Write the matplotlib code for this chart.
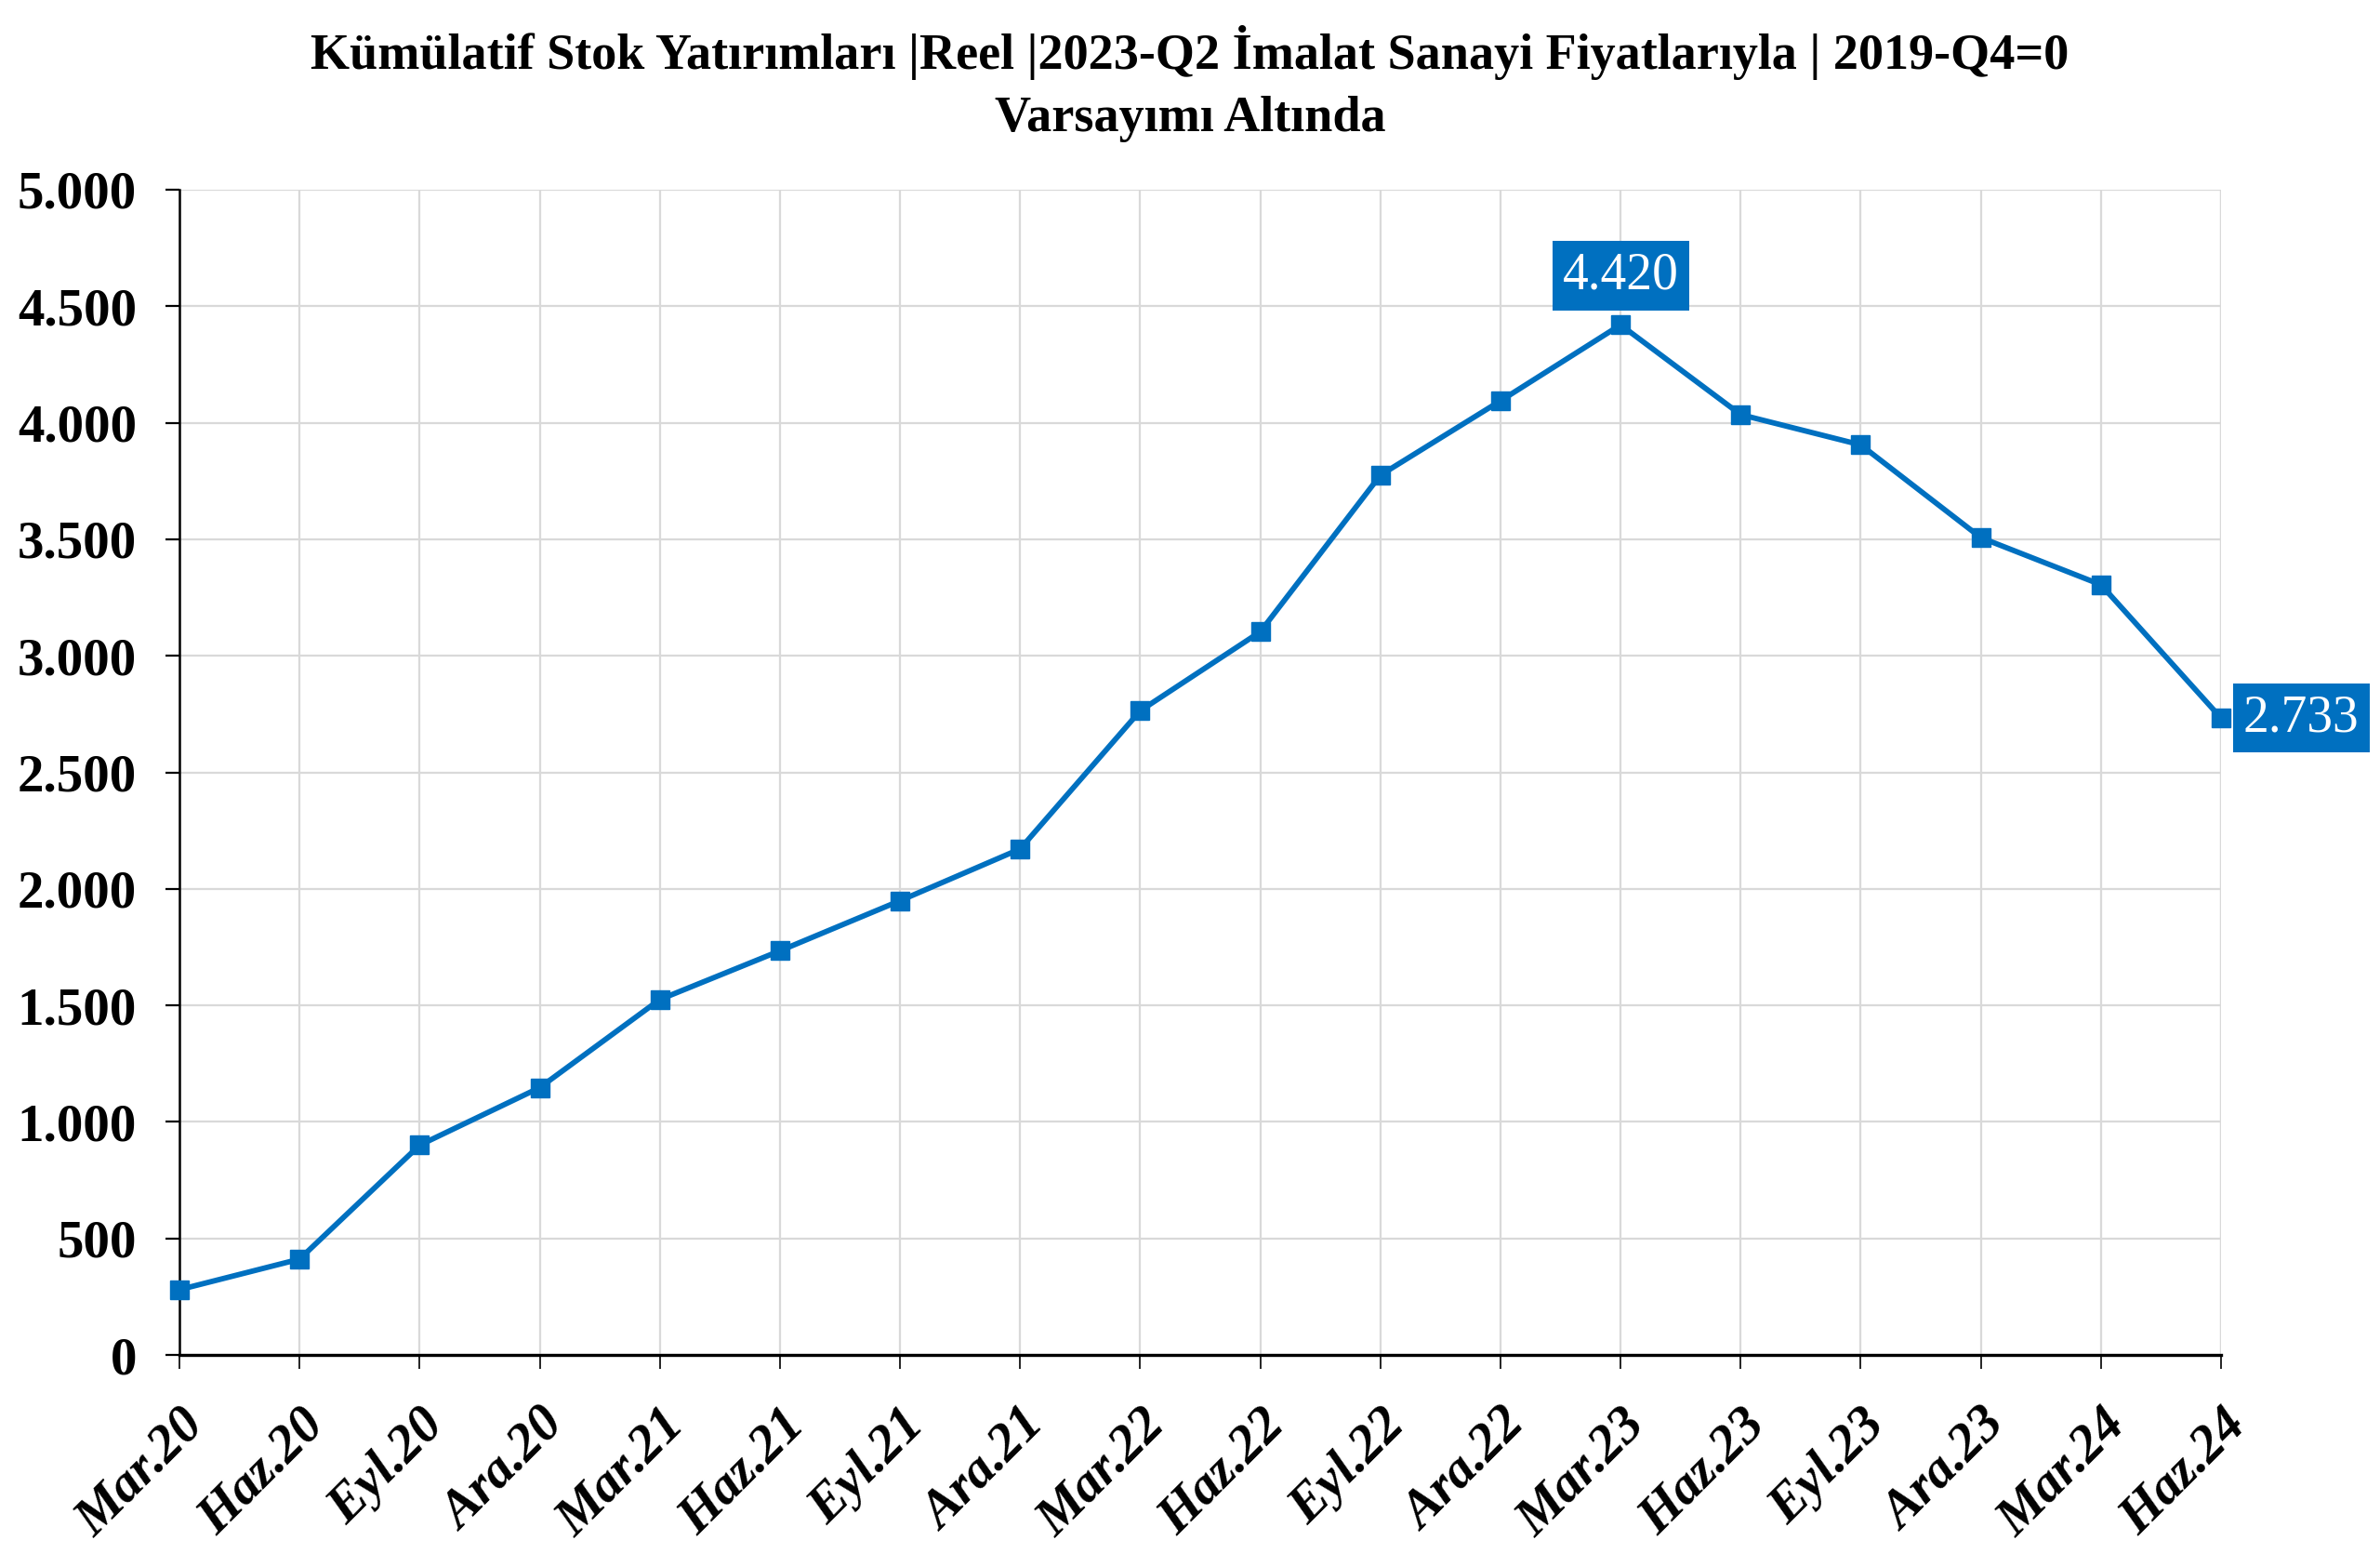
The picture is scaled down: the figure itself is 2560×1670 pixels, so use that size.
import numpy as np
import matplotlib
matplotlib.use('Agg')
import matplotlib.pyplot as plt
from matplotlib.ticker import FuncFormatter, MultipleLocator

plt.rcParams['font.family'] = ['Liberation Serif', 'DejaVu Serif']

# quarters and cumulative stock investment values
quarters = ['Mar.20', 'Haz.20', 'Eyl.20', 'Ara.20',
            'Mar.21', 'Haz.21', 'Eyl.21', 'Ara.21',
            'Mar.22', 'Haz.22', 'Eyl.22', 'Ara.22',
            'Mar.23', 'Haz.23', 'Eyl.23', 'Ara.23',
            'Mar.24', 'Haz.24']
values = [280, 411, 900, 1147,
          1525, 1734, 1949, 2171,
          2764, 3103, 3775, 4094,
          4420, 4035, 3905, 3507,
          3305, 2733]

title = ('Kümülatif Stok Yatırımları |Reel |2023-Q2 İmalat Sanayi Fiyatlarıyla | 2019-Q4=0\n'
         'Varsayımı Altında')

blue = '#0070C0'
grid_c = '#D9D9D9'

def dotted(v, pos):
    return '{:,.0f}'.format(v).replace(',', '.')

fig = plt.figure(figsize=(25.6, 16.7), dpi=100)
ax = fig.add_axes([193/2560, 1-1457/1670, (2389-193)/2560, (1457-204)/1670])

x = np.arange(len(quarters))
ax.plot(x, values, color=blue, lw=4.2, marker='s', markersize=14, zorder=3, clip_on=False)

ax.set_xlim(0, len(quarters)-1)
ax.set_ylim(0, 5000)
ax.yaxis.set_major_locator(MultipleLocator(500))
ax.yaxis.set_major_formatter(FuncFormatter(dotted))
ax.set_xticks(x)
ax.set_xticklabels(quarters, rotation=45, ha='right', rotation_mode='anchor',
                   fontsize=41, fontweight='bold', fontstyle='italic')
for lab in ax.get_yticklabels():
    lab.set_fontsize(41)
    lab.set_fontweight('bold')

ax.grid(True, color=grid_c, lw=1.6, zorder=0)
ax.set_axisbelow(True)
for s in ['top', 'right']:
    ax.spines[s].set_visible(False)
ax.spines['left'].set_linewidth(1.8)
ax.spines['bottom'].set_linewidth(2.4)
ax.tick_params(axis='y', direction='out', length=11, width=1.6, pad=22)
ax.tick_params(axis='x', direction='out', length=11, width=1.2, pad=24)
# right edge gridline
ax.axvline(len(quarters)-1, color=grid_c, lw=1.6, zorder=0)

# value labels for the peak and the last point
i_peak = int(np.argmax(values))
ax.annotate(dotted(values[i_peak], None), (x[i_peak], values[i_peak]),
            xytext=(0, 38), textcoords='offset points', ha='center', va='center',
            color='white', fontsize=40,
            bbox=dict(boxstyle='square,pad=0.2', fc=blue, ec='none'))
ax.annotate(dotted(values[-1], None), (x[-1], values[-1]),
            xytext=(62, 0), textcoords='offset points', ha='center', va='center',
            color='white', fontsize=40, annotation_clip=False,
            bbox=dict(boxstyle='square,pad=0.2', fc=blue, ec='none'))

fig.text(0.5, 1-90/1670, title, ha='center', va='center', fontsize=39,
         fontweight='bold', linespacing=1.45)

fig.savefig('out.png', dpi=100, facecolor='white')
